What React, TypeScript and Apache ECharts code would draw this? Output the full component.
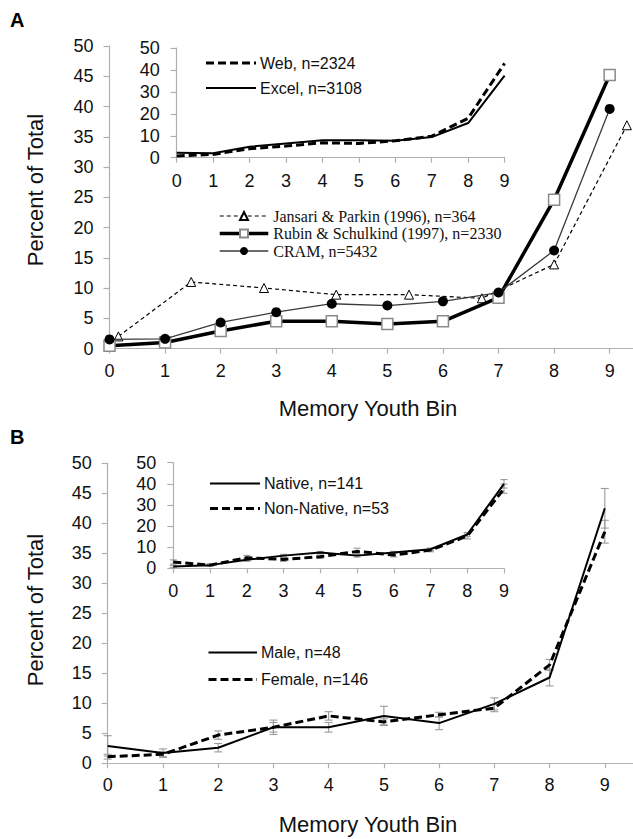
import React, { useEffect, useRef } from "react";
import * as echarts from "echarts";

const bins = [0, 1, 2, 3, 4, 5, 6, 7, 8, 9];
const axisTicks = [0, 1, 2, 3, 4, 5, 6, 7, 8, 9];

// Panel A inset
const webVals = [0.8, 1.5, 4.1, 5.3, 6.8, 6.5, 7.7, 9.8, 18.0, 43.0];
const excelVals = [2.3, 2.0, 5.0, 6.5, 7.9, 7.9, 7.7, 9.4, 15.8, 37.4];

// Panel A main
const jansariX = [0.16, 1.47, 2.78, 4.08, 5.39, 6.7, 8.0, 9.31];
const jansariVals = [2.0, 11.0, 10.0, 8.9, 8.9, 8.3, 13.9, 36.9];
const rubinVals = [0.45, 1.0, 2.9, 4.5, 4.5, 4.05, 4.5, 8.4, 24.6, 45.2];
const cramVals = [1.5, 1.6, 4.3, 6.0, 7.4, 7.1, 7.8, 9.25, 16.2, 39.6];

// Panel B inset
const nativeVals = [0.8, 1.5, 4.0, 6.0, 7.5, 6.0, 7.5, 9.0, 16.0, 40.0];
const nativeErr = [0.5, 0.4, 0.7, 0.6, 0.5, 0.7, 0.5, 0.6, 1.0, 2.0];
const nonNativeVals = [3.0, 1.5, 5.0, 4.2, 5.5, 8.0, 6.3, 8.6, 15.3, 37.7];
const nonNativeErr = [1.0, 0.6, 1.1, 0.9, 0.8, 1.5, 0.9, 0.8, 1.4, 2.2];

// Panel B main
const maleVals = [2.9, 1.7, 2.6, 6.0, 6.0, 7.9, 6.7, 9.9, 14.3, 42.5];
const maleErr = [1.7, 0.7, 0.7, 1.2, 0.8, 1.6, 1.1, 1.0, 1.4, 3.3];
const femaleVals = [1.1, 1.5, 4.7, 6.0, 7.9, 6.9, 8.1, 9.2, 16.4, 38.6];
const femaleErr = [0.4, 0.4, 0.7, 0.8, 0.7, 0.5, 0.4, 0.6, 0.9, 1.9];

const SANS = "Liberation Sans, Arial, sans-serif";
const SERIF = "Liberation Serif, Times New Roman, serif";
const AXIS_GREY = "#b0b0b0";
const TEXT = "#111";
const DASH = [8, 4];

function xAxisDef(gridIndex: number, max: number, margin: number) {
  return {
    type: "value",
    gridIndex,
    min: 0,
    max,
    interval: 1,
    splitLine: { show: false },
    axisLine: { show: true, lineStyle: { color: AXIS_GREY, width: 1.2 } },
    axisTick: { show: true, length: 5, lineStyle: { color: AXIS_GREY, width: 1.2 }, customValues: axisTicks },
    axisLabel: { color: TEXT, fontSize: 18, fontFamily: SANS, margin, customValues: axisTicks },
  };
}

function yAxisDef(gridIndex: number, interval: number, margin: number) {
  return {
    type: "value",
    gridIndex,
    min: 0,
    max: 50,
    interval,
    splitLine: { show: false },
    axisLine: { show: true, lineStyle: { color: AXIS_GREY, width: 1.2 } },
    axisTick: { show: true, length: 6, lineStyle: { color: AXIS_GREY, width: 1.2 } },
    axisLabel: { color: TEXT, fontSize: 18, fontFamily: SANS, margin },
  };
}

function pairs(xs: number[], ys: number[]) {
  return ys.map((v, i) => [xs[i], v]);
}

function errSeries(name: string, axisIdx: number, vals: number[], errs: number[], cap: number) {
  return {
    type: "custom",
    name,
    xAxisIndex: axisIdx,
    yAxisIndex: axisIdx,
    encode: { x: 0, y: 1 },
    silent: true,
    z: 1,
    data: vals.map((v, i) => [bins[i], v, errs[i]]),
    renderItem: (params: any, api: any) => {
      const x = api.value(0);
      const y = api.value(1);
      const e = api.value(2);
      const top = api.coord([x, y + e]);
      const bot = api.coord([x, y - e]);
      const st = { stroke: "#9a9a9a", lineWidth: 1.1 };
      return {
        type: "group",
        children: [
          { type: "line", shape: { x1: top[0], y1: top[1], x2: bot[0], y2: bot[1] }, style: st },
          { type: "line", shape: { x1: top[0] - cap, y1: top[1], x2: top[0] + cap, y2: top[1] }, style: st },
          { type: "line", shape: { x1: bot[0] - cap, y1: bot[1], x2: bot[0] + cap, y2: bot[1] }, style: st },
        ],
      };
    },
  };
}

// simple line-sample legend entry drawn with graphic elements
function legendEntry(x1: number, x2: number, y: number, text: string, dashed: boolean) {
  return [
    {
      type: "line",
      shape: { x1, y1: y, x2, y2: y },
      style: dashed
        ? { stroke: "#000", lineWidth: 3, lineDash: DASH }
        : { stroke: "#000", lineWidth: 2 },
    },
    {
      type: "text",
      x: x2 + 4,
      y,
      style: { text, font: `16px ${SANS}`, fill: TEXT, align: "left", verticalAlign: "middle" },
    },
  ];
}

export default function App() {
  const ref = useRef<HTMLDivElement>(null);

  useEffect(() => {
    if (!ref.current) return;
    const chart = echarts.init(ref.current, undefined, { renderer: "svg" });

    const option: any = {
      animation: false,
      backgroundColor: "#fff",
      grid: [
        { left: 109.5, top: 46, width: 523.5, height: 302.5 },
        { left: 176.7, top: 48, width: 327.9, height: 109.7 },
        { left: 107.7, top: 463.3, width: 525.3, height: 300 },
        { left: 173.3, top: 462.7, width: 330.7, height: 105.6 },
      ],
      xAxis: [
        xAxisDef(0, 9.42, 13),
        xAxisDef(1, 9, 14),
        xAxisDef(2, 9.51, 13),
        xAxisDef(3, 9, 14),
      ],
      yAxis: [yAxisDef(0, 5, 16), yAxisDef(1, 10, 17), yAxisDef(2, 5, 16), yAxisDef(3, 10, 17)],
      legend: [
        {
          data: ["Jansari & Parkin (1996), n=364", "Rubin & Schulkind (1997), n=2330", "CRAM, n=5432"],
          orient: "vertical",
          left: 218,
          top: 208,
          padding: 0,
          itemWidth: 48.5,
          itemHeight: 10,
          itemGap: 1.5,
          lineStyle: { width: "inherit" },
          textStyle: { fontFamily: SERIF, fontSize: 16, color: TEXT, lineHeight: 16 },
        },
      ],
      series: [
        // Panel A inset
        {
          type: "line",
          name: "Web, n=2324",
          xAxisIndex: 1,
          yAxisIndex: 1,
          symbol: "none",
          lineStyle: { color: "#000", width: 3, type: DASH },
          itemStyle: { color: "#000" },
          data: pairs(bins, webVals),
          z: 3,
        },
        {
          type: "line",
          name: "Excel, n=3108",
          xAxisIndex: 1,
          yAxisIndex: 1,
          symbol: "none",
          lineStyle: { color: "#000", width: 2 },
          itemStyle: { color: "#000" },
          data: pairs(bins, excelVals),
          z: 3,
        },
        // Panel A main
        {
          type: "line",
          name: "Jansari & Parkin (1996), n=364",
          xAxisIndex: 0,
          yAxisIndex: 0,
          symbol: "triangle",
          symbolSize: 9,
          lineStyle: { color: "#000", width: 1.2, type: [4, 3] },
          itemStyle: { color: "#fff", borderColor: "#000", borderWidth: 1 },
          data: pairs(jansariX, jansariVals),
          z: 3,
        },
        {
          type: "line",
          name: "Rubin & Schulkind (1997), n=2330",
          xAxisIndex: 0,
          yAxisIndex: 0,
          symbol: "rect",
          symbolSize: 11,
          lineStyle: { color: "#000", width: 3.5 },
          itemStyle: { color: "#fff", borderColor: "#8a8a8a", borderWidth: 1.5 },
          data: pairs(bins, rubinVals),
          z: 4,
        },
        {
          type: "line",
          name: "CRAM, n=5432",
          xAxisIndex: 0,
          yAxisIndex: 0,
          symbol: "circle",
          symbolSize: 10,
          lineStyle: { color: "#3a3a3a", width: 1.3 },
          itemStyle: { color: "#000" },
          data: pairs(bins, cramVals),
          z: 5,
        },
        // Panel B inset
        errSeries("nativeErr", 3, nativeVals, nativeErr, 3.5),
        errSeries("nonNativeErr", 3, nonNativeVals, nonNativeErr, 3.5),
        {
          type: "line",
          name: "Native, n=141",
          xAxisIndex: 3,
          yAxisIndex: 3,
          symbol: "none",
          lineStyle: { color: "#000", width: 2 },
          itemStyle: { color: "#000" },
          data: pairs(bins, nativeVals),
          z: 3,
        },
        {
          type: "line",
          name: "Non-Native, n=53",
          xAxisIndex: 3,
          yAxisIndex: 3,
          symbol: "none",
          lineStyle: { color: "#000", width: 3, type: DASH },
          itemStyle: { color: "#000" },
          data: pairs(bins, nonNativeVals),
          z: 3,
        },
        // Panel B main
        errSeries("maleErr", 2, maleVals, maleErr, 4),
        errSeries("femaleErr", 2, femaleVals, femaleErr, 4),
        {
          type: "line",
          name: "Male, n=48",
          xAxisIndex: 2,
          yAxisIndex: 2,
          symbol: "none",
          lineStyle: { color: "#000", width: 2 },
          itemStyle: { color: "#000" },
          data: pairs(bins, maleVals),
          z: 3,
        },
        {
          type: "line",
          name: "Female, n=146",
          xAxisIndex: 2,
          yAxisIndex: 2,
          symbol: "none",
          lineStyle: { color: "#000", width: 3, type: DASH },
          itemStyle: { color: "#000" },
          data: pairs(bins, femaleVals),
          z: 3,
        },
      ],
      graphic: [
        { type: "text", left: 10, top: 10, style: { text: "A", font: `bold 20px ${SANS}`, fill: "#000" } },
        { type: "text", left: 10, top: 427, style: { text: "B", font: `bold 20px ${SANS}`, fill: "#000" } },
        {
          type: "text",
          x: 35,
          y: 190,
          rotation: Math.PI / 2,
          style: { text: "Percent of Total", font: `22px ${SANS}`, fill: TEXT, align: "center", verticalAlign: "middle" },
        },
        {
          type: "text",
          x: 35,
          y: 610,
          rotation: Math.PI / 2,
          style: { text: "Percent of Total", font: `22px ${SANS}`, fill: TEXT, align: "center", verticalAlign: "middle" },
        },
        {
          type: "text",
          x: 368,
          y: 408,
          style: { text: "Memory Youth Bin", font: `22px ${SANS}`, fill: TEXT, align: "center", verticalAlign: "middle" },
        },
        {
          type: "text",
          x: 368,
          y: 824,
          style: { text: "Memory Youth Bin", font: `22px ${SANS}`, fill: TEXT, align: "center", verticalAlign: "middle" },
        },
        ...legendEntry(206, 256, 63, "Web, n=2324", true),
        ...legendEntry(206, 256, 88, "Excel, n=3108", false),
        ...legendEntry(210, 260, 483.5, "Native, n=141", false),
        ...legendEntry(210, 260, 508.5, "Non-Native, n=53", true),
        ...legendEntry(208.5, 257, 652.5, "Male, n=48", false),
        ...legendEntry(208.5, 257, 679.5, "Female, n=146", true),
      ],
    };

    chart.setOption(option);
    return () => chart.dispose();
  }, []);

  return (
    <div
      ref={ref}
      style={{ position: "absolute", left: 0, top: 0, width: 633, height: 839, background: "#fff" }}
    />
  );
}
